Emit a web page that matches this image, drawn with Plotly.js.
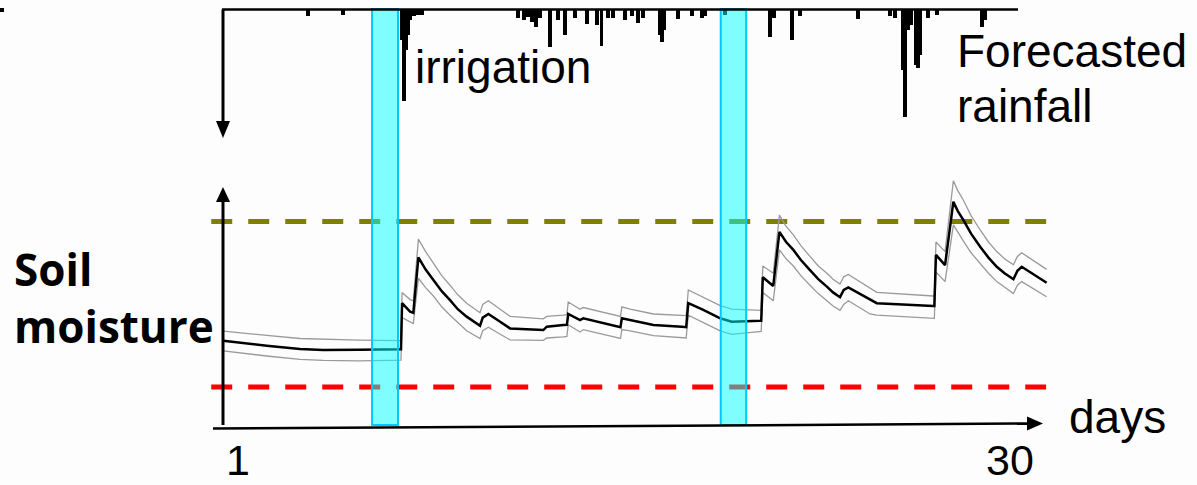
<!DOCTYPE html>
<html>
<head>
<meta charset="utf-8">
<script src="https://cdn.plot.ly/plotly-3.0.1.min.js"></script>
<style>html,body{margin:0;padding:0;background:#fdfdfd;}#chart{width:1197px;height:485px;}</style>
</head>
<body>
<div id="chart"></div>
<script>
// ---------- data ----------
var days = [0.45,1.2,2.07,3.31,4.18,5.5,7.05,7.08,7.12,7.42,7.54,7.73,8.0,8.29,8.6,8.91,9.2,9.53,10.03,10.13,10.34,10.78,11.15,12.39,12.52,13.14,13.27,13.32,13.76,13.88,15.13,15.27,15.32,15.63,16.5,17.56,17.72,17.8,18.36,18.99,19.42,20.48,20.52,20.58,20.97,21.2,21.45,21.72,22.0,22.34,22.65,22.97,23.2,23.46,23.6,23.77,24.58,24.83,26.94,26.98,27.04,27.38,27.69,27.85,28.06,28.35,28.69,29.0,29.31,29.6,29.93,30.08,30.24,31.17];
var moistureMean = [36.4,35.3,34.3,32.9,32.5,32.6,32.8,32.8,52.0,48.5,48.0,71.1,66.0,61.7,57.0,53.3,49.5,46.4,42.6,46.0,47.5,44.3,41.5,40.8,42.2,42.9,43.0,47.5,45.0,45.7,42.2,42.0,45.7,45.0,42.9,42.2,42.0,52.0,49.2,45.7,44.3,44.7,44.7,62.8,59.2,81.7,77.5,74.2,70.0,65.8,62.0,58.9,56.5,54.5,57.5,58.6,53.3,52.0,50.8,50.8,72.1,67.9,94.3,90.5,86.7,81.0,75.5,71.0,67.2,64.5,62.0,65.5,67.2,60.5];
var moistureUpper = [40.4,39.5,38.6,37.3,36.9,36.6,36.4,36.4,56.5,53.5,53.0,78.7,73.5,68.5,63.5,59.5,55.5,52.0,48.0,51.5,53.0,49.5,46.5,45.5,46.5,47.0,47.2,52.5,49.5,50.2,46.7,46.5,50.5,49.5,47.5,47.0,46.8,57.5,54.5,51.0,49.5,49.0,49.0,67.5,64.5,88.7,84.0,80.5,76.0,71.5,67.5,64.5,62.0,60.0,63.0,64.0,58.5,56.5,55.0,55.0,77.5,73.5,103.0,99.0,95.0,88.5,82.5,77.5,73.5,70.5,68.0,71.5,73.0,66.1];
var moistureLower = [32.1,31.0,30.0,28.6,28.2,28.0,28.3,28.3,46.0,44.0,43.5,62.4,58.5,55.0,50.5,47.0,43.8,40.5,37.3,40.5,42.0,39.0,36.7,36.5,37.5,38.0,38.2,43.0,40.0,41.0,37.5,37.3,41.0,40.5,38.5,37.5,37.5,47.0,44.0,40.5,39.0,40.2,40.2,56.5,53.0,74.2,70.5,67.5,63.5,59.5,56.0,53.0,50.8,49.0,51.5,53.0,47.5,47.0,45.7,45.7,65.0,61.0,84.6,81.5,78.0,73.0,68.5,64.5,61.0,58.5,56.0,59.5,61.0,54.7];

var rainDays = [3.61,4.92,7.12,7.19,7.27,7.34,7.42,7.57,7.72,7.87,11.45,11.67,11.82,11.97,12.12,12.27,12.64,12.94,13.2,13.58,14.02,14.4,14.57,14.81,14.99,15.44,15.7,15.93,16.11,16.75,16.82,16.9,17.42,17.94,18.31,18.43,19.17,20.85,21.0,21.67,21.97,24.13,25.33,25.52,25.81,25.89,26.0,26.11,26.3,26.37,26.45,26.75,27.08,28.76,28.87];
var rainMm = [3,2.5,15,45.5,20,12.5,5,3,2.5,2.5,4,5,3.5,6,8.5,4,18.5,5,12.5,4,7,7.5,18,4,4,5,3,6.5,4,12.5,16,10,4.5,3,4,3,2.5,13.5,4,15,3,4.5,3,4,30,53.5,10,7.5,27.5,29,22.5,4,2.5,8.5,5];

var thresholdDays = [0, 31.15];
var fieldCapacity = [86.0, 86.0];
var refillPoint = [17.1, 17.1];

var irrigationDays = [[6.0, 6.97], [19.01, 19.96]];

var labels = {irrigation: 'irrigation', rain1: 'Forecasted', rain2: 'rainfall', xlab: 'days', ylab: 'Soil<br>moisture', first: '1', last: '30'};

// ---------- helpers (pixel -> paper) ----------
var W = 1197, H = 485;
function px(x){ return x / W; }
function py(y){ return 1 - y / H; }

var traces = [
  {x: thresholdDays, y: fieldCapacity, mode: 'lines', line: {color: 'rgb(128,128,0)', width: 5, dash: '21px,16px'}, xaxis: 'x', yaxis: 'y', hoverinfo: 'skip'},
  {x: thresholdDays, y: refillPoint, mode: 'lines', line: {color: 'rgb(255,0,0)', width: 5, dash: '21px,16px'}, xaxis: 'x', yaxis: 'y', hoverinfo: 'skip'},
  {x: days, y: moistureUpper, mode: 'lines', line: {color: '#9a9a9a', width: 1.3}, xaxis: 'x', yaxis: 'y'},
  {x: days, y: moistureLower, mode: 'lines', line: {color: '#9a9a9a', width: 1.3}, xaxis: 'x', yaxis: 'y'},
  {x: days, y: moistureMean, mode: 'lines', line: {color: '#000000', width: 2.5}, xaxis: 'x', yaxis: 'y'},
  {x: rainDays, y: rainMm, type: 'bar', width: 0.13, marker: {color: '#000000', line: {width: 0}}, xaxis: 'x', yaxis: 'y2'}
];

var shapes = [];
irrigationDays.forEach(function(d){
  shapes.push({type: 'rect', xref: 'x', yref: 'paper', x0: d[0], x1: d[1], y0: py(425), y1: py(9), fillcolor: 'rgba(0,255,255,0.5)', line: {color: 'rgb(0,200,255)', width: 2}, layer: 'above'});
});
var ax = {color: '#000', width: 3};
// soil moisture y axis + arrowhead
shapes.push({type: 'line', xref: 'paper', yref: 'paper', x0: px(223), x1: px(223), y0: py(425), y1: py(200), line: ax});
shapes.push({type: 'path', xref: 'paper', yref: 'paper', path: 'M' + px(216) + ',' + py(202) + ' L' + px(230) + ',' + py(202) + ' L' + px(223) + ',' + py(187) + ' Z', fillcolor: '#000', line: {width: 0}});
// x axis + arrowhead
shapes.push({type: 'line', xref: 'paper', yref: 'paper', x0: px(213), x1: px(1030), y0: py(428.5), y1: py(423.5), line: {color: '#000', width: 2.5}});
shapes.push({type: 'path', xref: 'paper', yref: 'paper', path: 'M' + px(1027) + ',' + py(416.5) + ' L' + px(1043) + ',' + py(423.5) + ' L' + px(1027) + ',' + py(430.5) + ' Z', fillcolor: '#000', line: {width: 0}});
// rainfall axis + arrowhead
shapes.push({type: 'line', xref: 'paper', yref: 'paper', x0: px(223), x1: px(223), y0: py(9.5), y1: py(123), line: ax});
shapes.push({type: 'path', xref: 'paper', yref: 'paper', path: 'M' + px(216) + ',' + py(121) + ' L' + px(230) + ',' + py(121) + ' L' + px(223) + ',' + py(138) + ' Z', fillcolor: '#000', line: {width: 0}});
shapes.push({type: 'line', xref: 'paper', yref: 'paper', x0: px(222), x1: px(1018), y0: py(9.5), y1: py(9.5), line: {color: '#000', width: 2.5}});
// small cropped mark top-left
shapes.push({type: 'rect', xref: 'paper', yref: 'paper', x0: px(0), x1: px(4), y0: py(12), y1: py(8), fillcolor: '#000', line: {width: 0}});

var txt = {family: 'Liberation Sans, Arial, sans-serif', size: 46, color: '#000'};
var tick = {family: 'Liberation Sans, Arial, sans-serif', size: 43, color: '#000'};
function ann(text, x, y, xanchor, font){
  return {text: text, xref: 'paper', yref: 'paper', x: px(x), y: py(y), xanchor: xanchor, yanchor: 'middle', showarrow: false, font: font || txt};
}
var annotations = [
  ann(labels.irrigation, 413, 67, 'left'),
  ann(labels.rain1, 955, 51, 'left'),
  ann(labels.rain2, 955, 106, 'left'),
  ann(labels.xlab, 1067, 417, 'left'),
  {text: labels.first, xref: 'paper', yref: 'paper', x: px(238), y: 0, xanchor: 'center', yanchor: 'bottom', borderpad: 0, showarrow: false, font: tick},
  {text: labels.last, xref: 'paper', yref: 'paper', x: px(1010), y: 0, xanchor: 'center', yanchor: 'bottom', borderpad: 0, showarrow: false, font: tick},
  {text: labels.ylab, xref: 'paper', yref: 'paper', x: px(12), y: py(297), xanchor: 'left', yanchor: 'middle', align: 'left', showarrow: false, font: {family: 'Open Sans, sans-serif', size: 44, color: '#000', weight: 'bold'}}
];

var layout = {
  width: W, height: H,
  margin: {l: 0, r: 0, t: 0, b: 0},
  paper_bgcolor: '#fdfdfd', plot_bgcolor: 'rgba(0,0,0,0)',
  showlegend: false,
  xaxis: {range: [-7.881, 36.78], visible: false, fixedrange: true},
  yaxis: {domain: [py(428), py(150)], range: [0, 115.83], visible: false, fixedrange: true},
  yaxis2: {domain: [py(137), py(9.5)], range: [63.75, 0], visible: false, fixedrange: true, anchor: 'x'},
  bargap: 0,
  shapes: shapes,
  annotations: annotations
};

Plotly.newPlot('chart', traces, layout, {staticPlot: true, displayModeBar: false});
</script>
</body>
</html>
